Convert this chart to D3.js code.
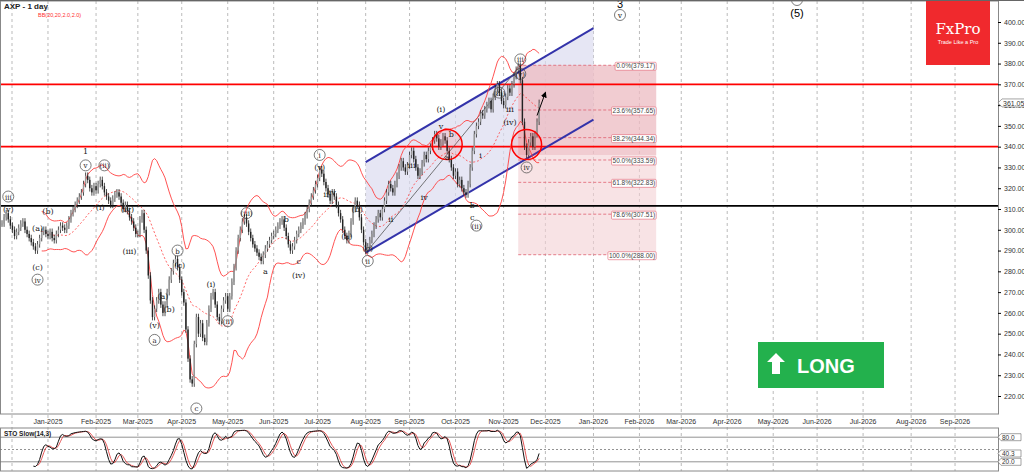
<!DOCTYPE html>
<html>
<head>
<meta charset="utf-8">
<script src="https://cdn.jsdelivr.net/npm/d3@7"></script>
<style>
  body { margin: 0; background: #fff; }
  svg { display: block; font-family: "Liberation Sans", Arial, sans-serif; }
</style>
</head>
<body>
<div id="root"></div>
<script>
// daily closes, Dec-2024 .. 26 Nov 2025 (one per weekday)
const dec24 = [303,306,308,305,302,300,297,299,301,303,304,300,298,296,294,292,290,293,296,299,300,298];
const jan25 = [297,299,296,295,298,300,302,301,300,302,305,308,310,312,314,316,318,322,326,324,320,318,321];
const feb25 = [319,322,324,321,318,316,314,312,315,317,318,316,313,310,312,309,306,304,301,298];
const mar25 = [298,305,308,300,290,278,266,258,262,266,270,264,260,264,270,276,280,284,286,282,276];
const apr25 = [270,265,252,238,228,226,245,258,250,255,248,246,255,262,268,270,264,258,256,262,266,268];
const may25 = [262,268,275,282,290,296,300,304,306,303,299,296,293,291,289,287,285,288,291,293,295,297];
const jun25 = [298,300,302,304,305,301,297,293,290,292,295,298,300,302,304,307,310,313,316,319,322];
const jul25 = [325,329,327,323,320,317,314,318,316,312,308,305,300,297,295,298,304,310,314,312,306,300,294];
const aug25 = [290,292,295,298,302,305,308,306,310,314,318,322,320,318,322,326,330,333,330,328,331];
const sep25 = [336,338,334,330,326,328,332,336,334,338,340,343,346,344,340,342,345,343,338,334,330,326];
const oct25 = [328,322,324,320,318,317,322,330,338,346,350,352,356,355,358,360,362,358,364,368,370,366,362];
const nov25 = [360,364,368,366,370,374,377,379,372,352,340,336,342,345,340,346,352,361.05];

const priceTicks = d3.range(220, 401, 10);
const fibLevels = [[0.0, 379.17], [23.6, 357.65], [38.2, 344.34], [50.0, 333.59], [61.8, 322.83], [78.6, 307.51], [100.0, 288.00]];
const hLevels = [[370, "#ff0000"], [340, "#ff0000"], [311.5, "#000000"]];
// wave labels: [bar index, price, text, circled]
const waves = [
  [3, 316, "iii", true], [3, 310, "(v)", false], [17, 301, "(a)", false], [22, 309, "(b)", false],
  [17, 282, "(c)", false], [17, 276, "iv", true], [40, 338, "1", false], [40, 331, "v", true],
  [49, 331, "(ii)", true], [47, 311, "(i)", false], [60, 310, "(iv)", false], [61, 290, "(iii)", false],
  [73, 254, "(v)", false], [73, 247, "a", true], [77, 268, "(a)", false], [80, 262, "(b)", false],
  [84, 290, "b", true], [85, 283, "(c)", false], [93, 214, "c", true], [100, 274, "(i)", false],
  [108, 256, "(ii)", true], [117, 308, "(iii)", true], [126, 280, "a", false], [136, 305, "b", false],
  [142, 285, "c", false], [142, 278, "(iv)", false], [152, 336, "i", true], [152, 330, "(v)", false],
  [155, 317, "ii", false], [158, 318, "iv", false], [165, 297, "(a)", false], [170, 310, "(b)", false],
  [175, 291, "(c)", false], [175, 285, "ii", true], [186, 305, "ii", false], [196, 331, "iii", false],
  [202, 316, "iv", false], [210, 350, "v", false], [210, 358, "(i)", false], [213, 335, "a", false],
  [215, 346, "b", false], [225, 312, "b", false], [225, 306, "c", false], [227, 302, "(ii)", true],
  [229, 336, "i", false], [238, 366, "(iii)", true], [243, 358, "iii", false], [243, 352, "(iv)", false],
  [248, 375, "(v)", true], [248, 382, "iii", true], [251, 330, "iv", true]
];

const W = 1024, H = 474;
const plotR = 998, mainTop = 1, mainBot = 414, stTop = 428, stBot = 471;

const closes = [].concat(dec24, jan25, feb25, mar25, apr25, may25, jun25, jul25, aug25, sep25, oct25, nov25);
// weekday calendar for the axis
const days = d3.timeDay.range(new Date(2024, 11, 2), new Date(2026, 9, 15)).filter(d => d.getDay() % 6 !== 0);
const bars = closes.map((c, i) => {
  const o = i ? closes[i - 1] : c;
  return { i, o, c, h: Math.max(o, c) + 1.6, l: Math.min(o, c) - 1.6 };
});

const x = d3.scaleLinear().domain([0, 1]).range([2, 4.09]);
const y = d3.scaleLinear().domain([220, 400]).range([396, 22]);

const svg = d3.select('#root').append('svg').attr('width', W).attr('height', H);

// month gridlines
const months = d3.timeMonth.range(new Date(2025, 0, 1), new Date(2026, 9, 1));
const monthIdx = months.map(m => ({ m, i: d3.bisector(d => d).left(days, m) }));
svg.selectAll('line.grid').data(monthIdx).enter().append('line')
  .attr('x1', d => x(d.i)).attr('x2', d => x(d.i)).attr('y1', mainTop).attr('y2', stBot)
  .attr('stroke', '#aaa').attr('stroke-dasharray', '3,3').attr('stroke-width', 0.8);
svg.append('line').attr('x1', 12).attr('x2', 12).attr('y1', mainTop).attr('y2', stBot)
  .attr('stroke', '#aaa').attr('stroke-dasharray', '3,3').attr('stroke-width', 0.8);

// channel
const chan = { a: 174, b: 283, up: [332.6, 397], lo: [289, 353] };
svg.append('polygon')
  .attr('points', [[x(chan.a), y(chan.up[0])], [x(chan.b), y(chan.up[1])], [x(chan.b), y(chan.lo[1])], [x(chan.a), y(chan.lo[0])]].join(' '))
  .attr('fill', '#dcdcf0').attr('opacity', 0.7);

// fibonacci box
const fa = 247, fb = 313;
svg.append('rect').attr('x', x(fa)).attr('width', x(fb) - x(fa)).attr('y', y(379.17)).attr('height', y(288) - y(379.17))
  .attr('fill', '#f4d0d4').attr('opacity', 0.6);
svg.append('rect').attr('x', x(fa)).attr('width', x(fb) - x(fa)).attr('y', y(379.17)).attr('height', y(336) - y(379.17))
  .attr('fill', '#e8b0b8').attr('opacity', 0.45);
fibLevels.forEach(([p, v]) => {
  svg.append('line').attr('x1', x(fa)).attr('x2', x(fb)).attr('y1', y(v)).attr('y2', y(v))
    .attr('stroke', '#e06070').attr('stroke-dasharray', '3,2').attr('stroke-width', 0.8);
  const t = svg.append('text').attr('x', x(fb) - 1).attr('y', y(v) + 3).attr('text-anchor', 'end')
    .attr('font-size', 6.5).attr('fill', '#444').text(p.toFixed(1) + '%(' + v.toFixed(2) + ')');
  const bb = t.node().getBBox();
  svg.insert('rect', () => t.node()).attr('x', bb.x - 1).attr('y', bb.y).attr('width', bb.width + 2).attr('height', bb.height)
    .attr('fill', '#fff').attr('stroke', '#e06070').attr('stroke-width', 0.6).attr('rx', 1);
});

// horizontal levels
hLevels.forEach(([v, col]) => {
  svg.append('line').attr('x1', 0).attr('x2', plotR).attr('y1', y(v)).attr('y2', y(v))
    .attr('stroke', col).attr('stroke-width', 1.8);
});

// channel lines
[chan.up, chan.lo].forEach(p => {
  svg.append('line').attr('x1', x(chan.a)).attr('y1', y(p[0])).attr('x2', x(chan.b)).attr('y2', y(p[1]))
    .attr('stroke', '#3333aa').attr('stroke-width', 2);
});
svg.append('line').attr('x1', x(175)).attr('y1', y(290)).attr('x2', x(248)).attr('y2', y(379))
  .attr('stroke', '#555').attr('stroke-width', 0.8);

// bollinger bands
const bb = bars.map((d, i) => {
  if (i < 19) return null;
  const w = closes.slice(i - 19, i + 1);
  const m = d3.mean(w), s = d3.deviation(w) * Math.sqrt(19 / 20);
  return { i, m, u: m + 2 * s, l: m - 2 * s };
}).filter(Boolean);
const bline = k => d3.line().x(d => x(d.i)).y(d => y(d[k]));
svg.append('path').datum(bb).attr('d', bline('u')).attr('fill', 'none').attr('stroke', '#ff4040').attr('stroke-width', 0.9);
svg.append('path').datum(bb).attr('d', bline('l')).attr('fill', 'none').attr('stroke', '#ff4040').attr('stroke-width', 0.9);
svg.append('path').datum(bb).attr('d', bline('m')).attr('fill', 'none').attr('stroke', '#ff4040').attr('stroke-width', 0.8).attr('stroke-dasharray', '2,2');

// bars
const g = svg.append('g');
g.selectAll('line.hl').data(bars).enter().append('line')
  .attr('x1', d => x(d.i)).attr('x2', d => x(d.i)).attr('y1', d => y(d.h)).attr('y2', d => y(d.l))
  .attr('stroke', '#222').attr('stroke-width', 0.8);
g.selectAll('rect.body').data(bars).enter().append('rect')
  .attr('x', d => x(d.i) - 0.7).attr('width', 1.4)
  .attr('y', d => y(Math.max(d.o, d.c))).attr('height', d => Math.max(1, Math.abs(y(d.o) - y(d.c))))
  .attr('fill', d => d.c >= d.o ? '#999' : '#222').attr('stroke', 'none');

// circles
[[213, 341], [251, 341]].forEach(([i, v]) => {
  svg.append('circle').attr('cx', x(i)).attr('cy', y(v)).attr('r', 15)
    .attr('fill', '#ff3030').attr('fill-opacity', 0.12).attr('stroke', '#ff0000').attr('stroke-width', 1.5);
});

// arrow
svg.append('defs').append('marker').attr('id', 'ah').attr('viewBox', '0 0 10 10').attr('refX', 8).attr('refY', 5)
  .attr('markerWidth', 6).attr('markerHeight', 6).attr('orient', 'auto')
  .append('path').attr('d', 'M0,0L10,5L0,10z').attr('fill', '#000');
svg.append('line').attr('x1', x(256)).attr('y1', y(355)).attr('x2', x(260)).attr('y2', y(366))
  .attr('stroke', '#000').attr('stroke-width', 1).attr('marker-end', 'url(#ah)');

// wave labels
waves.forEach(([i, v, t, c]) => {
  svg.append('text').attr('x', x(i)).attr('y', y(v) + 3).attr('text-anchor', 'middle')
    .attr('font-family', 'DejaVu Serif, serif').attr('font-size', c ? 7 : 8).attr('fill', '#222').text(t);
  if (c) svg.append('circle').attr('cx', x(i)).attr('cy', y(v)).attr('r', 5.5).attr('fill', 'none').attr('stroke', '#444').attr('stroke-width', 0.7);
});
svg.append('text').attr('x', 620).attr('y', 8).attr('text-anchor', 'middle').attr('font-size', 11).text('3');
svg.append('circle').attr('cx', 620).attr('cy', 15).attr('r', 5.5).attr('fill', 'none').attr('stroke', '#444').attr('stroke-width', 0.7);
svg.append('text').attr('x', 620).attr('y', 17.5).attr('text-anchor', 'middle').attr('font-family', 'DejaVu Serif, serif').attr('font-size', 7).text('v');
svg.append('circle').attr('cx', 797).attr('cy', 0).attr('r', 5.5).attr('fill', 'none').attr('stroke', '#444').attr('stroke-width', 0.7);
svg.append('text').attr('x', 797).attr('y', 17).attr('text-anchor', 'middle').attr('font-size', 11).text('(5)');

// frames
svg.append('rect').attr('x', 0.5).attr('y', mainTop).attr('width', plotR).attr('height', mainBot - mainTop)
  .attr('fill', 'none').attr('stroke', '#888');
svg.append('rect').attr('x', 0.5).attr('y', stTop).attr('width', plotR).attr('height', stBot - stTop)
  .attr('fill', 'none').attr('stroke', '#888');
svg.append('line').attr('x1', 0).attr('x2', W).attr('y1', 0.5).attr('y2', 0.5).attr('stroke', '#666');

// y axis
const yAx = svg.append('g').attr('transform', `translate(${plotR},0)`)
  .call(d3.axisRight(y).tickValues(priceTicks).tickSize(3).tickFormat(d3.format('.2f')));
yAx.select('.domain').attr('stroke', '#888');
yAx.selectAll('text').attr('font-size', 7).attr('fill', '#333');
const last = closes[closes.length - 1];
svg.append('path').attr('d', `M${plotR},${y(last)}l4,-4h24v8h-24z`).attr('fill', '#fff').attr('stroke', '#666').attr('stroke-width', 0.6);
svg.append('text').attr('x', plotR + 5).attr('y', y(last) + 3).attr('font-size', 7).attr('fill', '#333').text(last.toFixed(2));

// month labels
svg.selectAll('text.mon').data(monthIdx).enter().append('text')
  .attr('x', d => x(d.i)).attr('y', 424).attr('text-anchor', 'middle').attr('font-size', 7).attr('fill', '#333')
  .text(d => d3.timeFormat('%b-%Y')(d.m));

// titles
svg.append('text').attr('x', 4).attr('y', 9).attr('font-size', 8).attr('font-weight', 'bold').attr('fill', '#222').text('AXP - 1 day');
svg.append('text').attr('x', 38).attr('y', 17).attr('font-size', 5.5).attr('fill', '#ff3030').text('BB(20,20,2.0,2.0)');

// FxPro logo
svg.append('rect').attr('x', 926).attr('y', 1).attr('width', 64).attr('height', 64).attr('fill', '#f0292d');
svg.append('text').attr('x', 958).attr('y', 34).attr('text-anchor', 'middle').attr('font-family', 'DejaVu Serif, serif')
  .attr('font-size', 15).attr('fill', '#fff').text('FxPro');
svg.append('text').attr('x', 958).attr('y', 44).attr('text-anchor', 'middle').attr('font-size', 5.5).attr('fill', '#fff').text('Trade Like a Pro');

// LONG badge
svg.append('rect').attr('x', 758).attr('y', 342).attr('width', 126).attr('height', 46).attr('fill', '#23b14d');
svg.append('path').attr('d', 'M776,353l9,9h-5v12h-8v-12h-5z').attr('fill', '#fff');
svg.append('text').attr('x', 797).attr('y', 373).attr('font-size', 20).attr('font-weight', 'bold').attr('fill', '#fff').text('LONG');

// stochastic 14,3,3
const k0 = bars.map((d, i) => {
  if (i < 13) return null;
  const w = bars.slice(i - 13, i + 1);
  const hh = d3.max(w, b => b.h), ll = d3.min(w, b => b.l);
  return 100 * (d.c - ll) / (hh - ll);
});
const sma = (arr, n) => arr.map((v, i) => {
  const w = arr.slice(Math.max(0, i - n + 1), i + 1).filter(a => a != null);
  return (w.length === n) ? d3.mean(w) : null;
});
const kS = sma(k0, 3), dS = sma(kS, 3);
const ys = d3.scaleLinear().domain([0, 100]).range([stBot - 1, stTop + 1]);
[80, 20].forEach(v => svg.append('line').attr('x1', 0).attr('x2', plotR).attr('y1', ys(v)).attr('y2', ys(v)).attr('stroke', '#777').attr('stroke-width', 0.8));
svg.append('line').attr('x1', 0).attr('x2', plotR).attr('y1', ys(50)).attr('y2', ys(50)).attr('stroke', '#777').attr('stroke-dasharray', '2,2').attr('stroke-width', 0.8);
const sl = d3.line().defined(d => d != null).x((d, i) => x(i)).y(d => ys(d));
svg.append('path').datum(dS).attr('d', sl).attr('fill', 'none').attr('stroke', '#e03030').attr('stroke-width', 0.8);
svg.append('path').datum(kS).attr('d', sl).attr('fill', 'none').attr('stroke', '#111').attr('stroke-width', 1);
svg.append('text').attr('x', 4).attr('y', stTop + 8).attr('font-size', 6.5).attr('font-weight', 'bold').attr('fill', '#222').text('STO Slow(14,3)');
const lastK = kS[kS.length - 1];
[[80, '80.0'], [lastK, lastK.toFixed(1)], [20, '20.0']].forEach(([v, t]) => {
  svg.append('path').attr('d', `M${plotR},${ys(v)}l3,-3.5h20v7h-20z`).attr('fill', '#fff').attr('stroke', '#666').attr('stroke-width', 0.6);
  svg.append('text').attr('x', plotR + 4).attr('y', ys(v) + 2.5).attr('font-size', 6.5).attr('fill', '#333').text(t);
});
</script>
</body>
</html>
